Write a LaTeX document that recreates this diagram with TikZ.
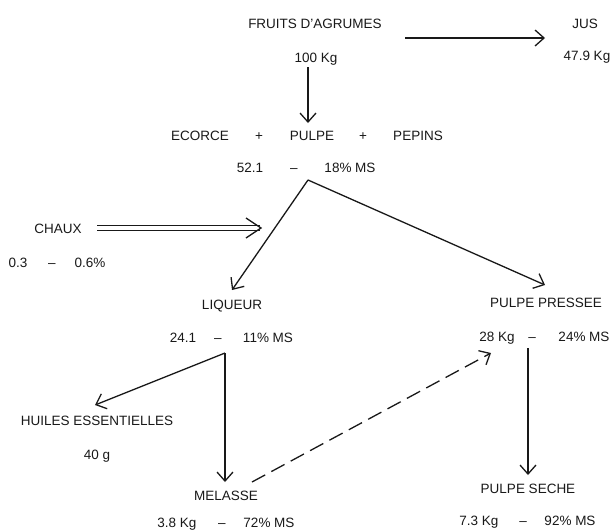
\documentclass[tikz,border=0pt]{standalone}
\usepackage{fontspec}
\setmainfont{Liberation Sans}
\usetikzlibrary{arrows.meta}
\tikzset{
  lbl/.style={anchor=base, inner sep=0pt, font=\fontsize{13.5}{16}\selectfont, text=black!90},
  conn/.style={line width=1.3pt, black!90},
  arr/.style={conn, -{Straight Barb[length=9pt,width=16pt,line width=1.3pt]}},
  dasharr/.style={arr, dash pattern=on 15pt off 7pt},
}
\begin{document}
\begin{tikzpicture}[x=1pt,y=-1pt]
\fill[white] (0,0) rectangle (613,531);
\useasboundingbox (0,0) rectangle (613,531);
% texts (baseline = centre + 5)
\node[lbl] (fruits) at (315,28) {FRUITS D'AGRUMES};
\node[lbl] (kg100) at (316,62) {100 Kg};
\node[lbl] (jus) at (585,28) {JUS};
\node[lbl] (jusw) at (587,60) {47.9 Kg};
\node[lbl] (ecorce) at (200,140) {ECORCE};
\node[lbl] (plus1) at (259,140) {+};
\node[lbl] (pulpe) at (312,140) {PULPE};
\node[lbl] (plus2) at (363,140) {+};
\node[lbl] (pepins) at (418,140) {PEPINS};
\node[lbl] (m1) at (250,172) {52.1};
\node[lbl] (d1) at (294,172) {--};
\node[lbl] (p1) at (350,172) {18\% MS};
\node[lbl] (chaux) at (58,233) {CHAUX};
\node[lbl] (c1) at (18,267) {0.3};
\node[lbl] (d2) at (52,267) {--};
\node[lbl] (c2) at (90,267) {0.6\%};
\node[lbl] (liqueur) at (232,309) {LIQUEUR};
\node[lbl] (m2) at (183,342) {24.1};
\node[lbl] (d3) at (218,342) {--};
\node[lbl] (p2) at (268,342) {11\% MS};
\node[lbl] (pressee) at (546,307) {PULPE PRESSEE};
\node[lbl] (m3) at (497,341) {28 Kg};
\node[lbl] (d4) at (532,341) {--};
\node[lbl] (p3) at (584,341) {24\% MS};
\node[lbl] (huiles) at (97,425) {HUILES ESSENTIELLES};
\node[lbl] (huilesw) at (97,459) {40 g};
\node[lbl] (melasse) at (226,500) {MELASSE};
\node[lbl] (m4) at (177,527) {3.8 Kg};
\node[lbl] (d5) at (222,527) {--};
\node[lbl] (p4) at (269,527) {72\% MS};
\node[lbl] (seche) at (528,493) {PULPE SECHE};
\node[lbl] (m5) at (479,525) {7.3 Kg};
\node[lbl] (d6) at (523,525) {--};
\node[lbl] (p5) at (570,525) {92\% MS};
% connector end points
\coordinate (jA) at (405,38);
\coordinate (jB) at (545,38);
\coordinate (dA) at (308,67);
\coordinate (dB) at (308,123);
\coordinate (apex) at (308,180);
\coordinate (liqtip) at (232,290);
\coordinate (pptip) at (545,285);
\coordinate (cA) at (97,228);
\coordinate (cB) at (260,228);
\coordinate (split) at (225,353);
\coordinate (hutip) at (95,405);
\coordinate (meltip) at (225,482);
\coordinate (dsA) at (252,482);
\coordinate (dsB) at (491,353);
\coordinate (ppA) at (528,348);
\coordinate (ppB) at (528,475);
% connectors
\draw[arr] (jA) -- (jB);
\draw[arr] (dA) -- (dB);
\draw[arr] (apex) -- (liqtip);
\draw[arr] (apex) -- (pptip);
\draw[conn] ([yshift=-2.5pt]cA) -- ([yshift=-2.5pt]cB);
\draw[conn] ([yshift=2.5pt]cA) -- ([yshift=2.5pt]cB);
\draw[conn] ([xshift=-14pt,yshift=-10pt]cB) -- ([xshift=1pt]cB) -- ([xshift=-14pt,yshift=10pt]cB);
\draw[arr] (split) -- (hutip);
\draw[arr] (split) -- (meltip);
\draw[dasharr] (dsA) -- (dsB);
\draw[arr] (ppA) -- (ppB);
\end{tikzpicture}
\end{document}
